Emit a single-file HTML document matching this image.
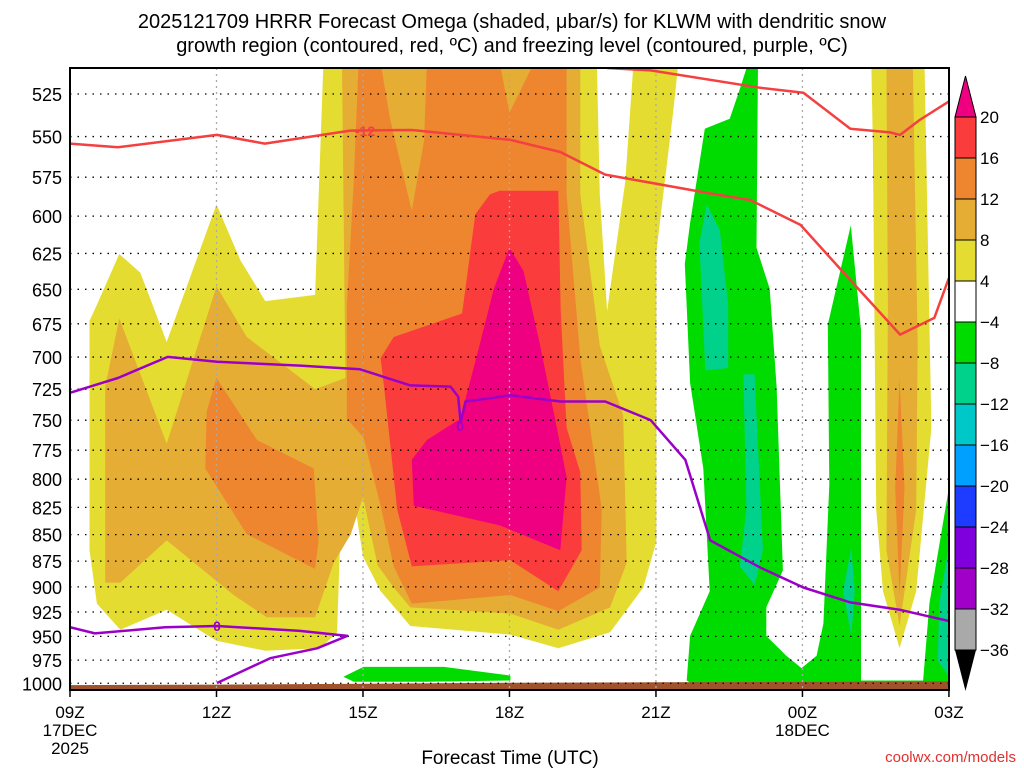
<!DOCTYPE html>
<html><head><meta charset="utf-8"><style>
html,body{margin:0;padding:0;background:#fff;}
svg{display:block;font-family:"Liberation Sans",sans-serif;}
</style></head><body>
<svg id="chart" width="1024" height="768" viewBox="0 0 1024 768">
<g id="title" font-size="20" text-anchor="middle" fill="#000">
<text x="512" y="28">2025121709 HRRR Forecast Omega (shaded, μbar/s) for KLWM with dendritic snow</text>
<text x="512" y="52">growth region (contoured, red, ºC) and freezing level (contoured, purple, ºC)</text>
</g>
<defs><clipPath id="plotclip"><rect x="70" y="68" width="879" height="622"/></clipPath></defs>
<g id="fills" clip-path="url(#plotclip)"></g>
<g id="grid"></g>
<g id="contours" clip-path="url(#plotclip)"></g>
<rect x="70" y="68" width="879" height="622" fill="none" stroke="#000" stroke-width="2"/>
<g id="yaxis"></g>
<g id="xaxis"></g>
<text x="510" y="764" font-size="19" text-anchor="middle">Forecast Time (UTC)</text>
<text x="1016" y="762" font-size="15" text-anchor="end" fill="#e03030">coolwx.com/models</text>
<g id="colorbar"></g>
</svg>
<script>
// ---- data (shapes digitized on a linear reading; converted to pressure below) ----
const pressureTicks = [525,550,575,600,625,650,675,700,725,750,775,800,825,850,875,900,925,950,975,1000];
const timeTicks = [0,3,6,9,12,15,18];
const timeLabels = ['09Z','12Z','15Z','18Z','21Z','00Z','03Z'];
const cbLevels = [20,16,12,8,4,-4,-8,-12,-16,-20,-24,-28,-32,-36];
const cbColors = ['#fb3c3c','#ee8630','#e5ad33','#e5dc32','#ffffff','#00dc00','#00d28c','#00c8c8','#00a0ff','#1e3cff','#7f00dc','#a000c8','#a9a9a9'];
const yellowPolys = [
 [[5.19,500],[12.46,500],[12.35,540],[12.01,652],[12.01,886],[11.74,923],[11.06,959],[10.0,972],[9.02,961],[6.97,954],[6.36,926],[6.0,898],[5.81,850],[5.54,876],[5.47,959],[5.13,972],[4.0,974],[3.0,966],[1.98,941],[1.03,957],[0.55,936],[0.4,893],[0.4,708],[0.55,695],[1.01,654],[1.44,669],[1.98,725],[3.0,614],[3.49,659],[4.0,692],[5.02,687]],
 [[16.41,500],[17.5,500],[17.64,794],[17.33,926],[16.99,972],[16.65,926],[16.51,860],[16.44,563]]
];
const whitePolys = [
 [[10.79,500],[11.54,500],[11.37,596],[11.0,700],[10.85,606]]
];
const lightOrangePolys = [
 [[5.57,500],[10.45,500],[10.45,606],[10.85,728],[11.33,784],[11.4,903],[11.06,939],[10.0,957],[9.02,944],[6.97,939],[6.63,923],[6.3,905],[6.0,850],[5.75,880],[5.4,903],[5.02,947],[4.03,947],[3.35,929],[1.98,885],[1.03,919],[0.72,919],[0.72,761],[1.01,706],[1.98,807],[3.0,680],[3.62,721],[5.02,763],[5.64,754]],
 [[16.72,500],[17.26,500],[17.36,728],[17.33,860],[16.99,954],[16.72,893],[16.75,695]]
];
const orangePolys = [
 [[5.91,500],[10.17,500],[10.17,606],[10.45,738],[10.89,860],[10.85,923],[10.0,942],[9.02,929],[7.0,936],[6.63,906],[6.36,857],[6.01,802],[5.67,787],[5.67,695],[5.81,596]],
 [[3.0,754],[3.83,804],[4.99,827],[5.09,886],[5.02,908],[3.62,880],[2.77,827],[2.8,781]],
 [[16.99,754],[17.09,843],[16.99,929],[16.9,843]]
];
const lightOrangeInner = [
 [[6.36,500],[7.31,500],[7.25,563],[7.0,619],[6.56,546]],
 [[8.8,500],[9.5,500],[9.0,540]]
];
const redPolys = [
 [[8.8,603],[10.0,603],[10.05,700],[10.17,794],[10.45,830],[10.48,893],[10.0,926],[9.02,901],[7.0,906],[6.7,860],[6.43,761],[6.36,738],[6.63,721],[8.03,702],[8.3,622],[8.6,606]]
];
const magentaPolys = [
 [[9.0,649],[9.29,668],[9.63,728],[9.97,794],[10.17,834],[10.04,893],[8.81,873],[7.04,857],[7.0,820],[7.31,804],[7.99,787],[8.34,735],[8.68,682]]
];
const greenPolys = [
 [[13.89,500],[14.09,500],[14.06,649],[14.33,682],[14.47,761],[14.6,909],[14.26,939],[14.26,962],[14.67,978],[14.98,988],[15.29,978],[15.43,952],[15.55,840],[15.52,711],[15.99,631],[16.2,715],[16.2,998],[17.47,998],[17.6,936],[17.98,847],[18.2,847],[18.2,1008],[13.04,1008],[12.63,998],[12.7,962],[13.1,926],[12.97,827],[12.7,758],[12.59,662],[12.7,629],[13.0,553],[13.51,545],[13.7,523]],
 [[5.6,995],[6.01,987],[7.66,987],[9.02,994],[9.02,998],[7.31,999],[5.81,999]]
];
const tealPolys = [
 [[13.04,614],[13.31,635],[13.48,695],[13.48,746],[13.01,748],[12.89,645]],
 [[13.79,751],[14.02,751],[14.19,893],[14.02,921],[13.72,906],[13.85,860]],
 [[16.0,891],[16.07,926],[16.0,962],[15.83,926]],
 [[17.98,893],[18.1,893],[18.1,1000],[17.77,982],[17.8,936]]
];
const groundHours = [0,3,6,9,12,15,18];
const groundPressure = [1002,1001.5,1000.5,999.5,999,998.5,998];
const dendriticA = [[0,565],[0.98,568],[3.01,558],[3.99,565],[5.74,554.5],[7.0,554],[9.02,562],[10.04,571.8],[10.96,590],[13.22,606],[13.93,610.5],[14.96,630.6],[15.98,675],[17.0,719],[17.7,705.6],[18.0,673.4]];
const dendriticB = [[11.0,504],[11.89,506],[14.14,520],[15.02,524],[15.98,553],[16.8,556],[17.0,558],[17.4,546],[18.0,531]];
const freezingA = [[0,766],[0.98,754],[2.0,737],[3.01,741],[4.71,744],[5.94,747],[6.97,760],[7.79,761],[7.95,769],[8.0,790],[8.1,773],[9.02,768],[10.04,773],[10.96,773],[11.89,788],[12.6,820],[13.11,885],[14.14,907],[15.02,923],[15.98,935],[17.0,941],[18.0,950]];
const freezingB = [[0,955],[0.51,960],[1.95,955],[3.01,954],[4.71,958],[5.68,962],[5.06,972],[4.1,980],[3.01,1000]];

// ---- axes ----
const NS='http://www.w3.org/2000/svg';
function xs(h){return 70 + h*48.83;}
function ys(p){return 94 + 914.5*Math.log(p/525);}
function digitizedToPressure(v){return 525*Math.exp((v-525)*1.24/914.5);}
function mk(tag,attrs,parent){const e=document.createElementNS(NS,tag);for(const k in attrs)e.setAttribute(k,attrs[k]);parent.appendChild(e);return e;}
function pts(poly,raw){return poly.map(d=>xs(d[0]).toFixed(1)+','+ys(raw?d[1]:digitizedToPressure(d[1])).toFixed(1)).join(' ');}
const fills=document.getElementById('fills');
function drawPolys(list,color,name){
  list.forEach(poly=>{
    const e=mk('polygon',{points:pts(poly),fill:color},fills);
    
    
  });
}
drawPolys(yellowPolys,'#e5dc32','omega-4-8');
drawPolys(whitePolys,'#ffffff','omega-gap');
drawPolys(lightOrangePolys,'#e5ad33','omega-8-12');
drawPolys(orangePolys,'#ee8630','omega-12-16');
drawPolys(lightOrangeInner,'#e5ad33','omega-8-12-inner');
drawPolys(redPolys,'#fb3c3c','omega-16-20');
drawPolys(magentaPolys,'#ee0080','omega-above-20');
drawPolys(greenPolys,'#00dc00','omega-neg4-neg8');
drawPolys(tealPolys,'#00d28c','omega-neg8-neg12');
// ground
const gp=groundHours.map((h,i)=>[h,groundPressure[i]]);
gp.push([18,1020]);gp.push([0,1020]);
const groundEl=mk('polygon',{points:pts(gp,true),fill:'#a0522d'},fills);



// grid
const gridG=document.getElementById('grid');
pressureTicks.forEach(p=>{
  const l=mk('line',{x1:70,x2:949,y1:ys(p),y2:ys(p),stroke:'#000','stroke-width':1.3,'stroke-dasharray':'1.5,6'},gridG);
  
  
});
timeTicks.slice(1,-1).forEach(h=>{
  const l=mk('line',{x1:xs(h),x2:xs(h),y1:68,y2:690,stroke:'#aaa','stroke-width':1.3,'stroke-dasharray':'2,4'},gridG);
  
  
});
// contours
const cg=document.getElementById('contours');
function line(data,color,name){
  const e=mk('polyline',{points:pts(data),fill:'none',stroke:color,'stroke-width':2.5,'stroke-linejoin':'round'},cg);
  
  
}
line(dendriticA,'#f44040','dendritic-contour-upper');
line(dendriticB,'#f44040','dendritic-contour-lower');
line(freezingA,'#9b00c8','freezing-level-main');
line(freezingB,'#9b00c8','freezing-level-low');
const lb1=mk('text',{x:365,y:136,'font-size':14,'font-weight':'bold',fill:'#f44040','text-anchor':'middle'},cg);
lb1.textContent='-12';


const lb2=mk('text',{x:460,y:431,'font-size':14,'font-weight':'bold',fill:'#9b00c8','text-anchor':'middle'},cg);
lb2.textContent='0';


const lb3=mk('text',{x:217,y:631,'font-size':14,'font-weight':'bold',fill:'#9b00c8','text-anchor':'middle'},cg);
lb3.textContent='0';



// y axis
const ya=document.getElementById('yaxis');
pressureTicks.forEach(p=>{
  const t=mk('text',{x:62,y:ys(p)+7,'font-size':18,'text-anchor':'end'},ya);
  t.textContent=p;
  
  
});
// x axis
const xa=document.getElementById('xaxis');
timeTicks.forEach((h,i)=>{
  const tk=mk('line',{x1:xs(h),x2:xs(h),y1:690,y2:697,stroke:'#000','stroke-width':1.5},xa);
  
  
  const t=mk('text',{x:xs(h),y:718,'font-size':17,'text-anchor':'middle'},xa);
  t.textContent=timeLabels[i];
  
  
});
[['17DEC',xs(0),736],['2025',xs(0),754],['18DEC',xs(15),736]].forEach(d=>{
  const t=mk('text',{x:d[1],y:d[2],'font-size':17,'text-anchor':'middle'},xa);
  t.textContent=d[0];
  
  
});
// colorbar
const cbG=document.getElementById('colorbar');
const cbX=955,cbW=21,cbTop=117,cbBot=650,cbStep=(cbBot-cbTop)/(cbLevels.length-1);
const tri1=mk('polygon',{points:`${cbX},${cbTop} ${cbX+cbW},${cbTop} ${cbX+cbW/2},76`,fill:'#ee0080',stroke:'#000','stroke-width':1},cbG);


cbColors.forEach((c,i)=>{
  const r=mk('rect',{x:cbX,y:cbTop+i*cbStep,width:cbW,height:cbStep,fill:c,stroke:'#000','stroke-width':1},cbG);
  
  
});
const tri2=mk('polygon',{points:`${cbX},${cbBot} ${cbX+cbW},${cbBot} ${cbX+cbW/2},691`,fill:'#000'},cbG);


cbLevels.forEach((v,i)=>{
  const t=mk('text',{x:980,y:cbTop+i*cbStep+6,'font-size':17},cbG);
  t.textContent=v<0?'\u2212'+(-v):String(v);
  
  
});
</script>
</body></html>
